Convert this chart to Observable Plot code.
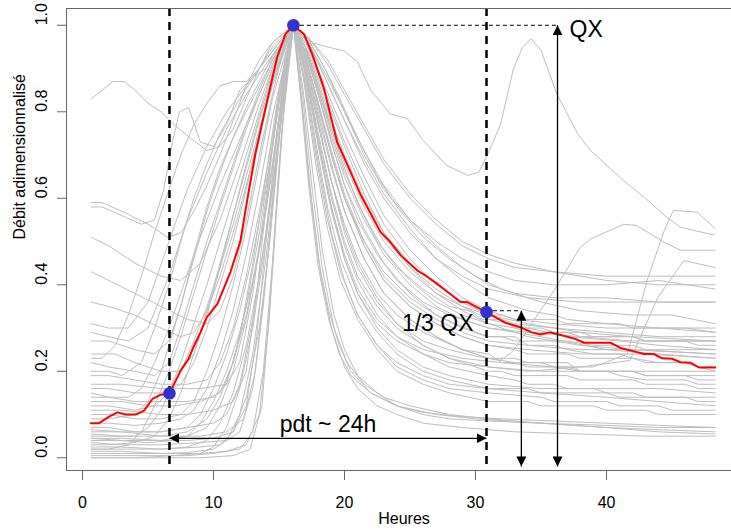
<!DOCTYPE html>
<html><head><meta charset="utf-8">
<script src="https://cdn.jsdelivr.net/npm/d3@7"></script>
<script src="https://cdn.jsdelivr.net/npm/@observablehq/plot@0.6"></script>
<style>
body{margin:0;background:#fff;}
#chart svg{display:block}
g[aria-label="x-axis tick"], g[aria-label="y-axis tick"]{stroke:#666}
</style></head><body><div id="chart"></div>
<script>
// ---- data ----
const xTicks = [0, 10, 20, 30, 40];
const yTicks = [0, 0.2, 0.4, 0.6, 0.8, 1.0];
const yTickLabels = ["0.0", "0.2", "0.4", "0.6", "0.8", "1.0"];
const xLabel = "Heures";
const yLabel = "Débit adimensionnalisé";

// highlighted (red) hydrograph
const redX = [0.64,1.27,2.03,2.67,3.3,4.07,4.7,5.34,5.98,6.64,7.0,7.5,8.1,8.5,9.0,9.5,10.3,11.3,12.06,12.57,13.2,14.1,14.86,15.5,16.1,16.9,17.53,18.4,19.44,20.08,21.2,22.75,23.4,24.3,25.55,26.2,27.1,28.85,29.37,30.84,31.5,32.3,33.4,34.3,34.96,35.7,36.5,37.6,38.3,40.3,41.07,42.1,42.85,43.6,44.25,45.0,45.65,46.4,47.05,48.3];
const redY = [0.08,0.08,0.095,0.105,0.10,0.10,0.109,0.136,0.146,0.149,0.171,0.202,0.229,0.258,0.29,0.325,0.356,0.43,0.502,0.595,0.703,0.826,0.926,0.98,1.0,0.98,0.934,0.857,0.73,0.687,0.61,0.522,0.502,0.468,0.433,0.421,0.402,0.36,0.36,0.337,0.325,0.312,0.302,0.29,0.285,0.29,0.284,0.275,0.266,0.266,0.254,0.246,0.24,0.24,0.23,0.229,0.221,0.22,0.209,0.209];

// key points: start of rise, peak (QX), 1/3 QX on recession
const keyX = [6.64, 16.1, 30.84];
const keyY = [0.149, 1.0, 0.337];

// annotation values
const qxArrowX = 36.26;
const thirdArrowX = 33.5;
const thirdLevel = 0.34;
const arrowBottom = -0.02;
const pdtLevel = 0.045;
const annotText = ["QX", "1/3 QX", "pdt ~ 24h"];
const annotY = [0.99, 0.311, 0.076];

// other event hydrographs (x, y pairs)
const grayCurves = [
 [0.67,0.83,1.5,0.85,2.3,0.87,3.2,0.87,4,0.85,5,0.82,6,0.8,7,0.77,8.2,0.74,9.5,0.71,10.5,0.72,11.5,0.76,12.5,0.83,13.5,0.9,14.5,0.96,16.1,1,17.3,0.96,18.5,0.88,20,0.78,21.5,0.69,23,0.61,25,0.53,27,0.46,29,0.41,31,0.37,33,0.35,34,0.34,36,0.33,37,0.32,40,0.31,44,0.3,46,0.3,48.3,0.29],
 [0.67,0.59,1.5,0.59,3,0.57,5,0.54,6.5,0.51,7.5,0.52,8.5,0.57,9.5,0.63,10.5,0.7,11.5,0.78,12.5,0.86,13.5,0.92,14.5,0.96,16.1,1,17,0.95,18,0.86,19,0.76,20,0.67,21,0.59,22.5,0.5,24,0.44,26,0.39,28,0.35,29.5,0.34,30.5,0.32,32,0.32,33,0.3,35,0.3,36,0.29,38,0.29,39,0.28,42,0.28,43,0.27,46,0.27,47,0.26,48.3,0.26],
 [0.67,0.58,1.5,0.58,3,0.56,4.5,0.54,5.5,0.55,6.2,0.62,6.8,0.72,7.4,0.8,8.1,0.81,9,0.73,10,0.72,11,0.77,12,0.85,13,0.88,14,0.9,15,0.95,16.1,1,17,0.94,18,0.84,19,0.73,20,0.63,21,0.55,22.5,0.47,24,0.41,26,0.36,28,0.33,31,0.3,35,0.28,40,0.25,44,0.24,48.3,0.23],
 [0.67,0.51,2,0.49,4,0.45,6,0.42,7.5,0.41,9,0.45,10.5,0.55,12,0.68,13.5,0.82,15,0.94,16.1,1,17,0.93,18,0.82,19,0.7,20,0.6,21.5,0.5,23,0.43,25,0.37,27,0.33,30,0.29,31,0.28,33,0.28,34,0.26,36,0.26,37,0.25,39,0.24,41,0.24,42,0.23,44,0.22,46,0.22,47,0.21,48.3,0.2],
 [0.67,0.43,2,0.41,4,0.38,6,0.35,8,0.32,9.5,0.31,10.5,0.34,11.5,0.42,12.5,0.55,13.5,0.7,14.5,0.84,15.3,0.94,16.1,1,17,0.9,18,0.77,19,0.64,20,0.54,21,0.46,22.5,0.38,24,0.33,26,0.29,29,0.25,31,0.24,32,0.22,35,0.22,36,0.21,38,0.2,40,0.2,41,0.19,43,0.18,46,0.18,47,0.17,48.3,0.17],
 [0.67,0.31,2,0.3,3.5,0.3,5,0.36,6.6,0.5,8,0.62,9.5,0.72,11,0.8,12.5,0.86,14,0.92,15,0.96,16.1,1,17.2,0.97,18.5,0.9,20,0.8,21.5,0.7,23,0.62,25,0.55,27,0.5,29,0.46,31,0.43,33,0.41,36,0.4,40,0.4,44,0.41,48.3,0.39],
 [0.67,0.22,2,0.21,4,0.2,5.5,0.19,6.6,0.22,7.5,0.3,8.5,0.4,9.5,0.5,10.5,0.59,11.5,0.68,12.5,0.77,13.5,0.85,14.5,0.92,16.1,1,17.5,0.96,18.7,0.95,20,0.94,21,0.915,22,0.85,23.5,0.795,24.8,0.784,26,0.734,27.8,0.676,29.4,0.653,30.25,0.66,30.9,0.7,31.9,0.77,32.9,0.9,33.6,0.95,34.25,0.969,35,0.942,36.2,0.842,37.8,0.749,38.8,0.71,41.3,0.641,42.85,0.603,44.6,0.556,45.65,0.533,48.2,0.515],
 [0.67,0.17,3,0.17,6,0.16,9,0.16,11,0.17,12,0.22,13,0.38,14,0.6,15,0.83,16.1,1,17,0.9,18,0.73,19,0.58,20,0.47,21,0.39,22.5,0.32,24,0.28,26,0.25,29,0.23,32,0.22,36,0.21,39,0.21,41.6,0.24,43.1,0.41,44.4,0.525,45.1,0.572,46.9,0.568,48.3,0.53],
 [0.67,0.15,2,0.14,4,0.13,6,0.13,8,0.13,10,0.14,11,0.17,12,0.28,13,0.45,14,0.65,15,0.85,16.1,1,17,0.92,18,0.78,19,0.64,20,0.52,21,0.44,22.5,0.36,24,0.31,26,0.27,28,0.25,30,0.235,31.9,0.225,32.9,0.248,34.5,0.32,36,0.387,38,0.487,38.8,0.506,41.3,0.54,42.3,0.537,44.6,0.495,45.65,0.48,48.3,0.48],
 [0.67,0.1,2,0.1,4,0.09,6,0.09,7.5,0.1,8.5,0.13,9.5,0.2,10.5,0.29,11.5,0.4,12.5,0.53,13.5,0.68,14.5,0.83,16.1,1,17,0.9,18,0.73,19,0.58,20,0.46,21,0.38,22.5,0.31,24,0.27,26,0.24,28,0.22,31,0.21,34,0.2,38,0.21,41.8,0.225,43.9,0.37,45.9,0.456,48.3,0.44],
 [0.67,0.29,2,0.28,3.5,0.27,5,0.3,6.6,0.42,8,0.55,9.5,0.66,11,0.76,12.5,0.84,14,0.91,15.2,0.96,16.1,1,17.2,0.96,18.5,0.89,20,0.8,21.5,0.71,23,0.63,25,0.55,27,0.49,29,0.44,31,0.4,33,0.38,36,0.37,40,0.37,44,0.36,48.3,0.36],
 [0.67,0.27,2,0.27,4,0.25,5.5,0.24,6.6,0.27,7.5,0.35,8.5,0.47,9.5,0.58,10.5,0.67,11.5,0.74,12.5,0.8,13.5,0.86,14.7,0.93,16.1,1,17,0.94,18,0.84,19,0.73,20,0.63,21.5,0.53,23,0.45,25,0.38,27,0.33,29,0.3,31,0.28,32,0.28,33,0.27,36,0.27,37,0.27,39,0.26,42,0.26,43,0.25,48.3,0.25],
 [0.67,0.24,2.5,0.24,4,0.22,6,0.2,7.5,0.2,8.5,0.24,9.5,0.33,10.5,0.44,11.5,0.56,12.5,0.68,13.5,0.79,14.5,0.89,16.1,1,17,0.9,18,0.74,19,0.6,20,0.49,21,0.41,22.5,0.33,24,0.28,26,0.24,28,0.21,31,0.19,33,0.18,34,0.17,36,0.17,37,0.16,39,0.16,40,0.15,42,0.15,43,0.14,46,0.14,47,0.13,48.3,0.13],
 [0.67,0.2,2,0.2,3,0.19,4.5,0.22,5.5,0.3,6.6,0.4,7.5,0.5,8.5,0.6,9.5,0.68,10.5,0.75,12,0.83,13.5,0.9,15,0.96,16.1,1,17.2,0.97,18.5,0.9,19.5,0.84,21,0.74,22.5,0.65,24,0.58,26,0.51,28,0.46,30,0.42,32,0.39,35,0.36,38,0.34,42,0.33,45,0.33,48.3,0.31],
 [0.67,0.16,2,0.16,4,0.15,6,0.15,7.5,0.17,8.5,0.22,9.5,0.3,10.5,0.4,11.5,0.5,12.5,0.62,13.5,0.75,14.5,0.87,16.1,1,17,0.95,18,0.85,19,0.75,20,0.66,21.5,0.56,23,0.48,25,0.41,27,0.36,29,0.33,31,0.31,33,0.3,34,0.29,37,0.29,38,0.28,42,0.28,43,0.27,48.3,0.27],
 [0.67,0.14,2,0.14,3.5,0.14,4.5,0.16,5.5,0.22,6.6,0.3,7.5,0.38,8.5,0.47,9.5,0.55,10.5,0.63,11.5,0.7,12.5,0.77,13.5,0.84,14.5,0.91,16.1,1,17,0.93,18,0.82,19,0.7,20,0.6,21.5,0.49,23,0.41,25,0.35,27,0.31,29,0.28,31,0.26,34,0.25,38,0.24,43,0.24,48.3,0.23],
 [0.67,0.13,3,0.13,5,0.12,7,0.12,9,0.13,10.5,0.15,11.5,0.22,12.5,0.35,13.5,0.52,14.5,0.72,15.3,0.88,16.1,1,16.9,0.88,17.8,0.7,18.7,0.55,19.7,0.43,21,0.33,22.5,0.26,24,0.21,26,0.18,28,0.16,31,0.15,35,0.14,36,0.13,40,0.13,41,0.12,44,0.12,45,0.11,48.3,0.11],
 [0.67,0.12,2,0.12,4,0.11,5.5,0.12,6.6,0.15,7.5,0.2,8.5,0.27,9.5,0.35,10.5,0.44,11.5,0.54,12.5,0.65,13.5,0.76,14.5,0.87,16.1,1,17.2,0.95,18.5,0.86,20,0.75,21.5,0.65,23,0.56,25,0.48,27,0.42,29,0.37,31,0.34,33,0.32,36,0.31,40,0.3,44,0.3,48.3,0.29],
 [0.67,0.11,3,0.11,6,0.1,8,0.1,10,0.11,11.5,0.13,12.5,0.2,13.3,0.38,14,0.58,14.8,0.8,15.5,0.93,16.1,1,16.8,0.86,17.5,0.68,18.3,0.48,19.2,0.33,20,0.25,21,0.19,22.5,0.15,24,0.12,26,0.1,28,0.09,31,0.085,35,0.08,40,0.075,44,0.07,48.3,0.07],
 [0.67,0.09,2,0.09,4,0.1,5,0.13,6,0.2,6.6,0.26,7.5,0.35,8.5,0.46,9.5,0.57,10.5,0.66,11.5,0.74,12.5,0.81,13.5,0.87,14.5,0.93,16.1,1,17,0.94,18,0.85,19,0.76,20,0.68,21.5,0.58,23,0.5,25,0.43,27,0.38,29,0.35,31,0.33,32,0.33,33,0.32,36,0.32,37,0.31,41,0.31,42,0.3,48.3,0.3],
 [0.67,0.07,2,0.07,4,0.06,6,0.06,8,0.07,10,0.08,11,0.1,12,0.17,13,0.32,14,0.52,15,0.78,16.1,1,17,0.87,18,0.68,19,0.52,20,0.41,21,0.33,22.5,0.26,24,0.22,26,0.19,28,0.17,31,0.16,34,0.16,35,0.15,40,0.15,41,0.14,44,0.14,48.3,0.14],
 [0.67,0.065,3,0.06,6,0.06,8,0.07,9,0.1,10,0.16,11,0.24,12,0.34,13,0.47,14,0.63,15,0.82,16.1,1,17,0.93,18,0.82,19,0.71,20,0.61,21.5,0.5,23,0.42,25,0.36,27,0.32,29,0.29,31,0.27,34,0.26,38,0.25,42,0.25,48.3,0.24],
 [0.67,0.06,3,0.06,6,0.05,9,0.05,11,0.06,12.3,0.09,13.2,0.2,14,0.42,14.8,0.68,15.5,0.88,16.1,1,16.7,0.82,17.3,0.62,18,0.44,18.8,0.32,19.6,0.24,20.5,0.19,22,0.15,24,0.12,26,0.105,29,0.095,32,0.09,36,0.085,40,0.08,44,0.075,48.3,0.07],
 [0.67,0.05,2,0.05,4,0.05,5,0.07,6,0.11,6.6,0.15,7.5,0.22,8.5,0.31,9.5,0.4,10.5,0.5,11.5,0.6,12.5,0.7,13.5,0.8,14.5,0.9,16.1,1,17,0.91,18,0.77,19,0.64,20,0.53,21,0.45,22.5,0.37,24,0.31,26,0.26,28,0.23,31,0.2,32,0.2,33,0.19,37,0.19,38,0.18,42,0.18,43,0.17,46,0.17,47,0.16,48.3,0.16],
 [0.67,0.045,3,0.045,6,0.04,8,0.04,10,0.045,11.5,0.06,12.5,0.12,13.3,0.28,14,0.5,14.8,0.74,15.5,0.91,16.1,1,16.9,0.9,17.8,0.73,18.7,0.58,19.7,0.46,21,0.36,22.5,0.29,24,0.24,26,0.2,28,0.18,31,0.16,35,0.15,40,0.14,44,0.13,48.3,0.12],
 [0.67,0.04,3,0.04,5,0.035,7,0.04,8,0.05,9,0.08,10,0.13,11,0.2,12,0.29,13,0.41,14,0.57,15,0.78,16.1,1,17.2,0.95,18.5,0.85,20,0.73,21.5,0.63,23,0.54,25,0.46,27,0.4,29,0.36,31,0.33,33,0.31,36,0.3,40,0.29,44,0.28,48.3,0.28],
 [0.67,0.035,3,0.03,6,0.03,9,0.035,11,0.04,12,0.06,13,0.16,13.8,0.35,14.5,0.58,15.2,0.82,16.1,1,16.8,0.84,17.5,0.63,18.3,0.44,19.2,0.3,20.2,0.22,21.5,0.17,23,0.14,25,0.12,28,0.1,31,0.09,35,0.08,40,0.07,44,0.065,48.3,0.06],
 [0.67,0.03,2,0.03,4,0.035,5.5,0.05,6.6,0.09,7.5,0.15,8.5,0.24,9.5,0.34,10.5,0.45,11.5,0.56,12.5,0.67,13.5,0.78,14.5,0.88,16.1,1,17,0.95,18,0.86,19,0.77,20,0.69,21.5,0.59,23,0.51,25,0.44,27,0.39,29,0.35,31,0.32,34,0.3,37,0.28,41,0.27,44,0.26,48.3,0.25],
 [0.67,0.025,3,0.025,6,0.02,9,0.025,10.5,0.03,11.5,0.06,12.5,0.14,13.5,0.3,14.3,0.5,15.1,0.76,16.1,1,17,0.92,18,0.8,19,0.68,20,0.57,21.5,0.46,23,0.38,25,0.32,27,0.28,29,0.25,31,0.23,33,0.22,34,0.21,37,0.21,38,0.2,42,0.2,43,0.19,46,0.19,47,0.18,48.3,0.18],
 [0.67,0.02,3,0.02,6,0.02,8,0.025,9.5,0.04,10.5,0.08,11.5,0.15,12.5,0.26,13.5,0.42,14.5,0.62,15.3,0.82,16.1,1,17,0.89,18,0.72,19,0.57,20,0.46,21,0.38,22.5,0.3,24,0.25,26,0.21,28,0.19,31,0.17,35,0.16,40,0.16,44,0.16,48.3,0.15],
 [0.67,0.015,3,0.015,6,0.01,9,0.01,11,0.015,12.5,0.03,13.5,0.1,14.2,0.3,14.8,0.56,15.4,0.82,16.1,1,16.7,0.84,17.4,0.62,18.2,0.42,19,0.3,20,0.21,21,0.16,22.5,0.12,24,0.1,26,0.08,29,0.07,33,0.06,38,0.055,43,0.05,48.3,0.05],
 [0.67,0.01,3,0.01,6,0.01,8,0.012,10,0.02,11,0.04,12,0.1,13,0.24,14,0.46,15,0.74,16.1,1,17,0.93,18,0.81,19,0.7,20,0.6,21.5,0.49,23,0.41,25,0.35,27,0.31,29,0.28,31,0.26,33,0.25,34,0.24,37,0.24,38,0.23,42,0.23,43,0.22,46,0.22,47,0.21,48.3,0.21],
 [0.67,0.005,4,0.005,8,0.005,10,0.01,12,0.02,13,0.06,13.8,0.2,14.5,0.45,15.2,0.75,16.1,1,16.9,0.87,17.8,0.68,18.7,0.53,19.7,0.41,21,0.32,22.5,0.25,24,0.2,26,0.17,28,0.15,31,0.13,34,0.13,35,0.12,39,0.12,40,0.11,43,0.11,44,0.1,48.3,0.1],
 [0.67,0,5,0,9,0,11.5,0.005,12.8,0.02,13.7,0.12,14.3,0.35,14.9,0.63,15.5,0.86,16.1,1,16.7,0.83,17.3,0.64,18,0.46,18.8,0.34,19.6,0.26,20.5,0.2,22,0.15,24,0.12,27,0.1,30,0.09,35,0.08,40,0.07,44,0.06,48.3,0.055],
 [0.67,0,4,0,7,0.005,9,0.01,10,0.025,11,0.07,12,0.16,13,0.3,14,0.5,15,0.75,16.1,1,17.2,0.94,18.5,0.84,20,0.72,21.5,0.61,23,0.52,25,0.44,27,0.38,29,0.34,31,0.31,34,0.28,38,0.26,42,0.25,48.3,0.24],
 [0.67,0.08,2,0.08,4,0.075,6,0.08,7.5,0.09,8.5,0.11,9.5,0.16,10.5,0.24,11.5,0.34,12.5,0.47,13.5,0.62,14.5,0.79,16.1,1,17,0.92,18,0.79,19,0.67,20,0.57,21.5,0.46,23,0.38,25,0.32,27,0.28,29,0.25,31,0.23,33,0.23,34,0.22,37,0.22,38,0.2,42,0.2,43,0.19,48.3,0.19],
 [0.67,0.19,2,0.19,4,0.18,6,0.17,8,0.17,9.5,0.18,10.5,0.22,11.5,0.3,12.5,0.42,13.5,0.57,14.5,0.74,15.3,0.88,16.1,1,17.2,0.96,18.5,0.88,20,0.78,21.5,0.68,23,0.6,25,0.52,27,0.46,29,0.42,31,0.39,34,0.37,38,0.36,42,0.36,48.3,0.36],
 [0.67,0.36,2,0.35,4,0.33,6,0.3,7.5,0.28,8.5,0.29,9.5,0.34,10.5,0.42,11.5,0.52,12.5,0.63,13.5,0.75,14.5,0.86,16.1,1,17.3,0.97,18.7,0.91,20,0.84,21.5,0.76,23,0.68,25,0.6,27,0.54,29,0.49,31,0.46,33,0.44,36,0.43,40,0.42,44,0.42,48.3,0.42],
 [0.67,0.055,3,0.05,6,0.05,8,0.06,9.5,0.09,10.5,0.14,11.5,0.22,12.5,0.33,13.5,0.48,14.5,0.67,15.3,0.85,16.1,1,17,0.9,18,0.75,19,0.61,20,0.5,21,0.42,22.5,0.35,24,0.3,26,0.26,28,0.23,31,0.21,35,0.2,40,0.2,44,0.2,48.3,0.2],
 [0.67,0.02,2,0.02,3.5,0.03,4.5,0.06,5.5,0.12,6.6,0.2,7.5,0.28,8.5,0.38,9.5,0.48,10.5,0.58,11.5,0.67,12.5,0.76,13.5,0.84,14.8,0.93,16.1,1,17,0.94,18,0.84,19,0.74,20,0.65,21.5,0.55,23,0.47,25,0.4,27,0.35,29,0.32,31,0.3,34,0.29,38,0.28,42,0.27,48.3,0.27],
 [0.67,0.045,3,0.04,6,0.04,8,0.05,9.5,0.07,10.5,0.12,11.5,0.2,12.5,0.32,13.5,0.48,14.5,0.68,15.3,0.86,16.1,1,17.3,0.97,18.7,0.92,20,0.85,21.5,0.77,23,0.69,25,0.61,27,0.55,29,0.5,31,0.47,33,0.45,36,0.43,40,0.41,44,0.4,48.3,0.4],
 [0.67,0.23,1.5,0.23,2.5,0.26,3.5,0.33,4.5,0.42,5.5,0.52,6.6,0.62,7.5,0.7,8.5,0.77,9.5,0.82,10.5,0.86,11.5,0.87,12.5,0.87,13.5,0.9,14.5,0.95,16.1,1,17,0.95,18,0.87,19,0.78,20,0.7,21.5,0.6,23,0.52,25,0.45,27,0.4,29,0.36,31,0.33,34,0.31,38,0.29,42,0.28,48.3,0.27]
];

// scale extents (R-style 4% padding, right side cropped)
const xDomain = [-1.22, 49.54];
const yDomain = [-0.0294, 1.0388];

// ---- build tables ----
const grayData = grayCurves.flatMap((c, id) => {
  const pts = [];
  for (let i = 0; i < c.length; i += 2) pts.push({id, x: c[i], y: c[i + 1]});
  return pts;
});
const redData = redX.map((x, i) => ({x, y: redY[i]}));
const keyData = keyX.map((x, i) => ({x, y: keyY[i]}));
const arrows = [
  {x1: qxArrowX, y1: arrowBottom, x2: qxArrowX, y2: keyY[1]},
  {x1: thirdArrowX, y1: arrowBottom, x2: thirdArrowX, y2: thirdLevel},
  {x1: keyX[0], y1: pdtLevel, x2: keyX[2], y2: pdtLevel}
];
const dashH = [
  {x1: keyX[1], x2: qxArrowX, y: keyY[1]},
  {x1: keyX[2], x2: thirdArrowX, y: thirdLevel}
];
const labels = [
  {x: qxArrowX, y: annotY[0], t: annotText[0], anchor: "start"},
  {x: keyX[2], y: annotY[1], t: annotText[1], anchor: "end"},
  {x: (keyX[0] + keyX[2]) / 2, y: annotY[2], t: annotText[2], anchor: "middle"}
];

const font = "'Liberation Sans', Arial, Helvetica, sans-serif";
const chart = Plot.plot({
  width: 731, height: 530,
  marginLeft: 66, marginRight: 0, marginTop: 8, marginBottom: 60,
  x: {domain: xDomain, axis: null},
  y: {domain: yDomain, axis: null},
  style: {fontFamily: font, fontSize: "16px", background: "white", color: "black", overflow: "visible"},
  marks: [
    Plot.line(grayData, {x: "x", y: "y", z: "id", stroke: "#bebebe", strokeWidth: 1}),
    Plot.line(redData, {x: "x", y: "y", stroke: "#ff0000", strokeWidth: 2}),
    Plot.ruleX([keyX[0], keyX[2]], {stroke: "black", strokeWidth: 2.5, strokeDasharray: "8,6"}),
    Plot.ruleY(dashH, {x1: "x1", x2: "x2", y: "y", stroke: "black", strokeWidth: 1, strokeDasharray: "4,3"}),
    Plot.link(arrows, {x1: "x1", y1: "y1", x2: "x2", y2: "y2", stroke: "black", strokeWidth: 1.3}),
    Plot.dot(keyData, {x: "x", y: "y", r: 6.3, fill: "#3333cc", stroke: "none"}),
    Plot.text(labels.filter(d => d.anchor === "start"), {x: "x", y: "y", text: "t", textAnchor: "start", dx: 12, fontSize: 23}),
    Plot.text(labels.filter(d => d.anchor === "end"), {x: "x", y: "y", text: "t", textAnchor: "end", dx: -13, fontSize: 23}),
    Plot.text(labels.filter(d => d.anchor === "middle"), {x: "x", y: "y", text: "t", textAnchor: "middle", fontSize: 23}),
    // box (top, left, bottom)
    Plot.ruleY([yDomain[0], yDomain[1]], {stroke: "#666", strokeWidth: 1}),
    Plot.ruleX([xDomain[0]], {stroke: "#666", strokeWidth: 1}),
    // axes
    Plot.axisX(xTicks, {tickSize: 10, tickPadding: 16, fontSize: 16, label: null}),
    Plot.axisY(yTicks, {tickSize: 9, tickFormat: () => "", label: null}),
    Plot.text(yTicks, {frameAnchor: "left", y: d => d, text: (d, i) => yTickLabels[i], rotate: -90, dx: -25, fontSize: 16}),
    Plot.text([xLabel], {frameAnchor: "bottom", text: d => d, dx: 5, dy: 53, fontSize: 16}),
    Plot.text([yLabel], {frameAnchor: "left", text: d => d, rotate: -90, dx: -46.5, fontSize: 16})
  ]
});

// filled arrowheads on the link mark
const ns = "http://www.w3.org/2000/svg";
const defs = document.createElementNS(ns, "defs");
const marker = document.createElementNS(ns, "marker");
marker.setAttribute("id", "ah");
marker.setAttribute("viewBox", "0 0 10 10");
marker.setAttribute("refX", "10");
marker.setAttribute("refY", "5");
marker.setAttribute("markerWidth", "10");
marker.setAttribute("markerHeight", "10");
marker.setAttribute("markerUnits", "userSpaceOnUse");
marker.setAttribute("orient", "auto-start-reverse");
const mp = document.createElementNS(ns, "path");
mp.setAttribute("d", "M0,0L10,5L0,10Z");
mp.setAttribute("fill", "black");
mp.setAttribute("stroke", "none");
marker.appendChild(mp);
defs.appendChild(marker);
chart.insertBefore(defs, chart.firstChild);
chart.querySelectorAll('g[aria-label="link"] path').forEach(p => {
  p.setAttribute("marker-start", "url(#ah)");
  p.setAttribute("marker-end", "url(#ah)");
});

document.getElementById("chart").appendChild(chart);
</script></body></html>
